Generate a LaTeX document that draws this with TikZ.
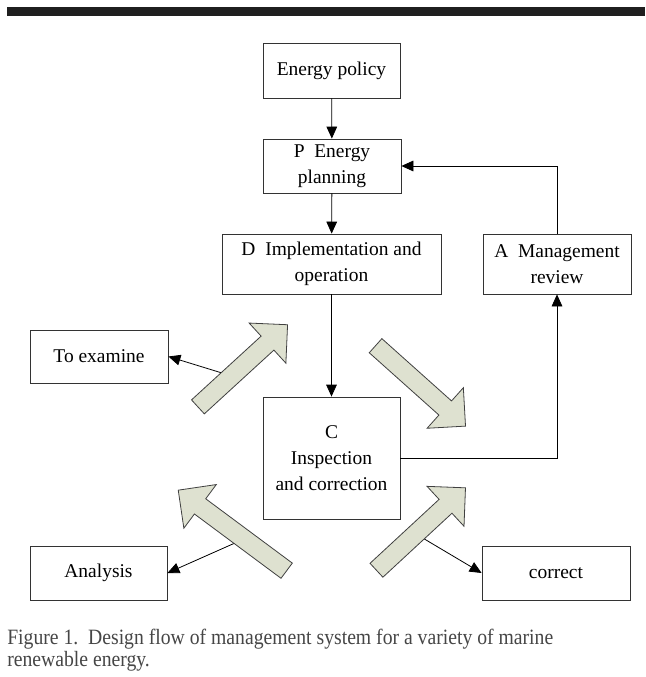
\documentclass[tikz,border=0pt]{standalone}
\usepackage{fontspec}
\setmainfont{Liberation Serif}
\newfontfamily\captionfont[FakeStretch=0.9]{Liberation Serif}
\usepackage{xcolor}
\usetikzlibrary{calc,shapes,positioning,arrows.meta}

\definecolor{arrowfill}{RGB}{222,225,208}
\definecolor{captiongray}{RGB}{70,70,70}

\tikzset{
    box/.style={draw=black!80, line width=0.6pt, fill=white, align=center,
        inner sep=2pt, font=\fontsize{14.6}{19.5}\selectfont},
    link/.style={draw=black, line width=0.6pt, -{Triangle[length=9pt,width=8pt]}},
    bigarrow/.style={single arrow, draw=black!75, line width=0.6pt, fill=arrowfill,
        inner xsep=0pt, inner ysep=6.8pt, minimum width=40.5pt, single arrow head extend=13.3pt}
}

\begin{document}
\begin{tikzpicture}[x=0.75pt, y=-0.75pt]
        \useasboundingbox[fill=white] (0,0) rectangle (645,677);
        \fill[black!88] (7,7) rectangle (645,16);

        % main cycle
        \node[box, minimum width=102.75pt, minimum height=41.25pt] (policy) at (331.5,70.5) {Energy policy};
        \node[box, minimum width=103.5pt, minimum height=40.5pt] (plan) at (332,166) {P\ \ Energy\\planning};
        \node[box, minimum width=164.25pt, minimum height=45pt] (impl) at (331.5,264) {D\ \ Implementation and\\operation};
        \node[box, minimum width=111pt, minimum height=45pt] (review) at (557,264) {A\ \ Management\\review};
        \node[box, minimum width=102.75pt, minimum height=91.5pt] (check) at (331.5,458) {C\\Inspection\\and correction};

        % side boxes
        \node[box, minimum width=103.5pt, minimum height=39.75pt] (examine) at (99,356.5) {To examine};
        \node[box, minimum width=102.75pt, minimum height=40.5pt] (analysis) at (98.5,573) {Analysis};
        \node[box, minimum width=111pt, minimum height=40.5pt] (correct) at (556,573) {correct};

        \draw[link] (policy) -- (plan);
        \draw[link] (plan) -- (impl);
        \draw[link] (impl) -- (check);
        \draw[link] (check.east) -| (review.south);
        \draw[link] (review.north) |- (plan.east);

        \coordinate (e1) at (222,373);
        \coordinate (e3) at (235,543);
        \coordinate (e4) at (421,537);
        \draw[link] (e1) -- (examine.east);
        \draw[link] (e3) -- (analysis.east);
        \draw[link] (e4) -- (correct.west);

        % block arrows
        \node[bigarrow, minimum height=91.2pt, rotate=42.5] (a1) at (239.25,369) {};
        \node[bigarrow, minimum height=90.5pt, rotate=-41.8] (a2) at (417,382.75) {};
        \node[bigarrow, minimum height=101.3pt, rotate=143.4] (a3) at (236.25,533.25) {};
        \node[bigarrow, minimum height=91pt, rotate=42.8] (a4) at (417.5,532.25) {};

        \node[anchor=north west, align=left, text=captiongray, inner sep=0pt,
            font=\captionfont\fontsize{16.4}{16.5}\selectfont] (caption) at (7,629)
            {Figure 1.\ \ Design flow of management system for a variety of marine\\renewable energy.};
    \end{tikzpicture}
\end{document}
